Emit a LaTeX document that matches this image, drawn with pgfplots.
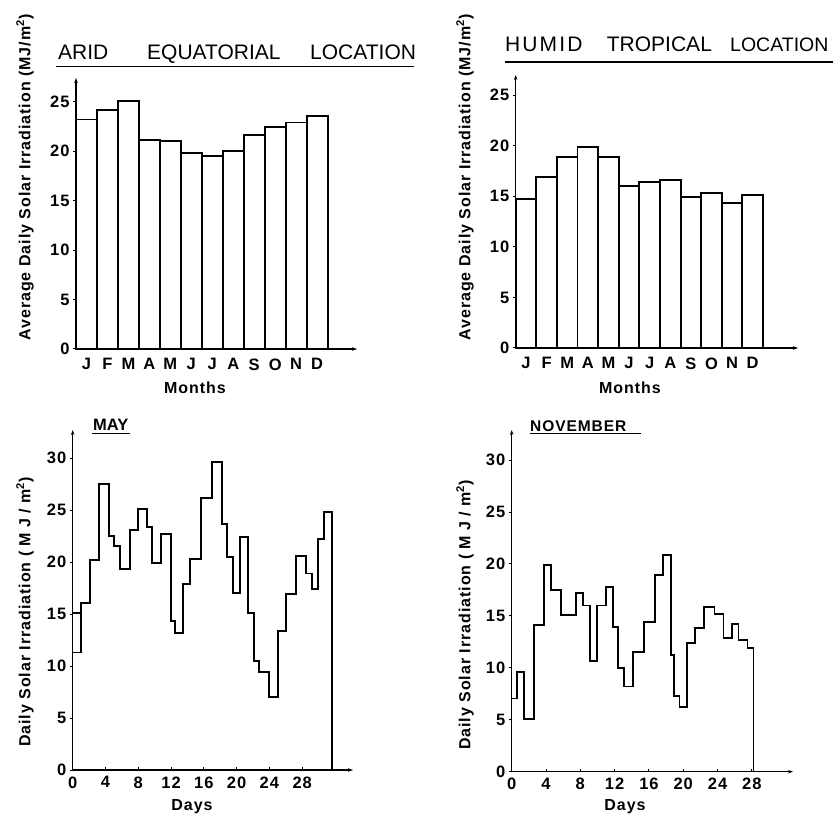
\documentclass[border=0pt]{standalone}
\usepackage{fontspec}
\setmainfont{Liberation Sans}
\newfontfamily\spc[LetterSpace=10]{Liberation Sans}
\newfontfamily\bspc[LetterSpace=6]{Liberation Sans}
\usepackage{pgfplots}
\pgfplotsset{compat=1.18}
\usetikzlibrary{arrows.meta}
\newcommand\fs[1]{\fontsize{#1}{#1}\selectfont}
\pgfplotsset{
  base/.style={scale only axis, axis lines=left, clip=false,
    axis line style={line width=1.4bp, -{Stealth[length=5bp,width=3.5bp]}},
    /pgf/number format/assume math mode=true,
    ticklabel style={font=\bspc\bfseries\fs{16.5bp}},
    tick align=outside, major tick length=3bp,
    tick style={line width=1bp, black},
  }
}
\begin{document}
\begin{tikzpicture}
\useasboundingbox (0,0) rectangle (833bp,816bp);
% ---------- top left
\begin{axis}[base, ybar, bar width=1, at={(76bp,467bp)}, anchor=south west,
  width=281bp, height=271bp, xmin=0.5, xmax=13.9, ymin=0, ymax=27.4,
  ytick={0,5,...,25}, xtick={1,...,12},
  xticklabels={J,F,M,A,M,J,J,A,S,O,N,D}, major x tick style={draw=none},
  xticklabel style={yshift=-3bp}]
\addplot[fill=white, draw=black, line width=1.9bp] coordinates {
(1,23.2) (2,24.2) (3,25.1) (4,21.1) (5,21.0) (6,19.8) (7,19.5) (8,20.0) (9,21.6) (10,22.4) (11,22.9) (12,23.6)};
\end{axis}
% ---------- top right
\begin{axis}[base, ybar, bar width=1, at={(515.7bp,468bp)}, anchor=south west,
  width=282.3bp, height=273bp, xmin=0.5, xmax=14.2, ymin=0, ymax=27.0,
  ytick={0,5,...,25}, xtick={1,...,12},
  xticklabels={J,F,M,A,M,J,J,A,S,O,N,D}, major x tick style={draw=none},
  xticklabel style={yshift=-3bp}]
\addplot[fill=white, draw=black, line width=1.9bp] coordinates {
(1,14.7) (2,16.9) (3,18.9) (4,19.9) (5,18.9) (6,16.0) (7,16.4) (8,16.6) (9,14.9) (10,15.3) (11,14.3) (12,15.1)};
\end{axis}
% ---------- May
\begin{axis}[base, at={(72.7bp,46bp)}, anchor=south west,
  width=280.3bp, height=340bp, xmin=0, xmax=34.2, ymin=0, ymax=32.7,
  ytick={0,5,...,30}, xtick={0,4,...,28}, major x tick style={yshift=3bp}]
\addplot[const plot, line width=1.9bp] coordinates {
(0,11.3) (0.98,16.1) (2.1,20.2) (3.24,27.5) (4.46,22.5) (5.04,21.5) (5.77,19.3) (6.99,23.05) (8.0,25.1) (9.1,23.4) (9.7,19.9) (10.77,22.7) (11.99,14.3) (12.48,13.2) (13.49,17.9) (14.3,20.3) (15.65,26.2) (16.95,29.6) (18.17,23.7) (18.78,20.5) (19.59,17.0) (20.4,22.4) (21.34,15.1) (22.1,10.5) (22.76,9.4) (23.98,7.05) (25.07,13.4) (26.0,16.95) (27.2,20.6) (28.45,18.9) (29.15,17.4) (29.95,22.2) (30.65,24.8) (31.6,0)};
\addplot[line width=1.9bp] coordinates {(0,15.1) (0.98,15.1)};
\end{axis}
% ---------- November
\begin{axis}[base, at={(511.7bp,44.3bp)}, anchor=south west,
  width=281.3bp, height=341.7bp, xmin=0, xmax=32.8, ymin=0, ymax=32.9,
  ytick={0,5,...,30}, xtick={0,4,...,28}, major x tick style={yshift=3bp}]
\addplot[const plot, line width=1.9bp] coordinates {
(0,7.05) (0.65,9.6) (1.44,5.05) (2.64,14.1) (3.80,19.9) (4.59,17.5) (5.72,15.05) (7.50,17.2) (8.28,16.0) (9.14,10.7) (9.92,16.0) (11.00,17.75) (11.79,13.9) (12.44,10.0) (13.10,8.2) (14.12,11.55) (15.47,14.4) (16.72,18.95) (17.62,20.9) (18.55,11.2) (18.94,7.3) (19.56,6.25) (20.49,12.4) (21.39,13.8) (22.47,15.9) (23.64,15.2) (24.69,12.9) (25.67,14.25) (26.44,12.7) (27.49,11.9) (28.19,0)};
\end{axis}
% ---------- titles
\node[anchor=base west, inner sep=0, font=\fs{21bp}] at (58bp,756bp) {ARID};
\node[anchor=base west, inner sep=0, font=\fs{21bp}] at (147bp,756bp) {EQUATORIAL};
\node[anchor=base west, inner sep=0, font=\fs{21bp}] at (310bp,756bp) {LOCATION};
\draw[line width=1.6bp] (56bp,749.3bp) -- (414bp,749.3bp);
\node[anchor=base west, inner sep=0, font=\spc\fs{21bp}] at (505bp,764.3bp) {HUMID};
\node[anchor=base west, inner sep=0, font=\fs{21bp}] at (606.7bp,764.3bp) {TROPICAL};
\node[anchor=base west, inner sep=0, font=\fs{19.5bp}] at (730bp,764.3bp) {LOCATION};
\draw[line width=1.6bp] (505bp,754bp) -- (833bp,754bp);
\node[anchor=base west, inner sep=0, font=\bfseries\fs{16.5bp}] at (93bp,385.3bp) {MAY};
\draw[line width=1.3bp] (92bp,382.7bp) -- (130bp,382.7bp);
\node[anchor=base west, inner sep=0, font=\bspc\bfseries\fs{15.5bp}] at (530bp,384.3bp) {NOVEMBER};
\draw[line width=1.3bp] (530bp,382.7bp) -- (641bp,382.7bp);
% ---------- axis labels
\node[rotate=90, inner sep=0, font=\bspc\bfseries\fs{16bp}] at (25bp,638.5bp) {Average Daily Solar Irradiation (MJ/m\textsuperscript{2})};
\node[rotate=90, inner sep=0, font=\bspc\bfseries\fs{16bp}] at (465bp,638.5bp) {Average Daily Solar Irradiation (MJ/m\textsuperscript{2})};
\node[rotate=90, inner sep=0, font=\bspc\bfseries\fs{16bp}] at (25bp,204bp) {Daily Solar Irradiation ( M J / m\textsuperscript{2})};
\node[rotate=90, inner sep=0, font=\bspc\bfseries\fs{16bp}] at (465bp,201bp) {Daily Solar Irradiation ( M J / m\textsuperscript{2})};
\node[inner sep=0, font=\bspc\bfseries\fs{16bp}] at (195bp,428bp) {Months};
\node[inner sep=0, font=\bspc\bfseries\fs{16bp}] at (630bp,428bp) {Months};
\node[inner sep=0, font=\bspc\bfseries\fs{16bp}] at (192bp,9bp) {Days};
\node[inner sep=0, font=\bspc\bfseries\fs{16bp}] at (625bp,9bp) {Days};
\end{tikzpicture}
\end{document}
